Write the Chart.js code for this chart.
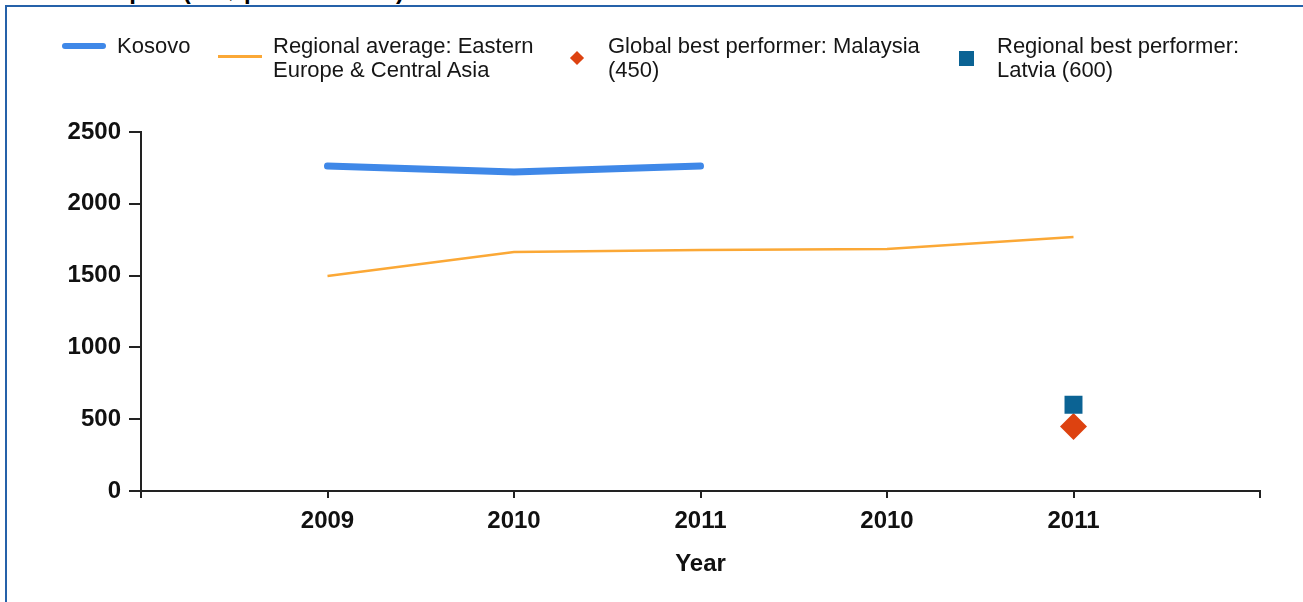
<!DOCTYPE html>
<html>
<head>
<meta charset="utf-8">
<script src="https://cdn.jsdelivr.net/npm/chart.js@4/dist/chart.umd.min.js"></script>
<style>
  html,body{margin:0;padding:0;background:#fff;overflow:hidden}
  #wrap{position:relative;width:1303px;height:602px}
  #frame{position:absolute;left:5px;top:5px;width:1400px;height:700px;border-left:2px solid #2561a9;border-top:2px solid #2561a9}
  #ttl{position:absolute;left:12px;top:-21px;font:bold 24px "Liberation Sans",Arial,sans-serif;line-height:24px;color:#000;white-space:nowrap}
  .lg{position:absolute;top:34px;font:22px "Liberation Sans",Arial,sans-serif;line-height:24px;color:#161616;white-space:nowrap}
  .sw{position:absolute}
  canvas{position:absolute;left:0;top:0}
</style>
</head>
<body>
<div id="wrap">
  <div id="ttl">Cost to import (US$ per container)</div>
  <div id="frame"></div>
  <canvas id="c" width="1303" height="602"></canvas>
  <div id="legend"></div>
</div>
<script>
// categories (blank slots pad the axis at both ends)
const YEARS = ['', '2009', '2010', '2011', '2010', '2011', ''];
const KOSOVO = [null, 2263, 2221, 2263, null, null, null];
const REGION_AVG = [null, 1497, 1664, 1678, 1685, 1769, null];
const GLOBAL_BEST = [null, null, null, null, null, 450, null];
const REGION_BEST = [null, null, null, null, null, 600, null];
const Y_TICKS = [0, 500, 1000, 1500, 2000, 2500];

const C_BLUE = '#3f88e8', C_ORANGE = '#fba836', C_RED = '#dd4210', C_TEAL = '#0b6394';
const AX = '#222';

// legend drawn as html, two-line labels
const legendItems = [
  {sw:{left:62,top:43,width:44,height:6,background:C_BLUE,borderRadius:'3px'}, x:117, text:'Kosovo'},
  {sw:{left:218,top:55,width:44,height:3,background:C_ORANGE}, x:273, text:'Regional average: Eastern<br>Europe &amp; Central Asia'},
  {sw:{left:572,top:53,width:10,height:10,background:C_RED,transform:'rotate(45deg)'}, x:608, text:'Global best performer: Malaysia<br>(450)'},
  {sw:{left:959,top:51,width:15,height:15,background:C_TEAL}, x:997, text:'Regional best performer:<br>Latvia (600)'},
];
const lg = document.getElementById('legend');
legendItems.forEach(it => {
  const s = document.createElement('div');
  s.className = 'sw';
  Object.entries(it.sw).forEach(([k,v]) => s.style[k] = typeof v === 'number' ? v + 'px' : v);
  lg.appendChild(s);
  const t = document.createElement('div');
  t.className = 'lg';
  t.style.left = it.x + 'px';
  t.innerHTML = it.text;
  lg.appendChild(t);
});

const tickFont = {family:'"Liberation Sans", Arial, sans-serif', size:24, weight:'bold'};

new Chart(document.getElementById('c'), {
  type: 'line',
  data: {
    labels: YEARS,
    datasets: [
      {label:'Kosovo', data:KOSOVO, borderColor:C_BLUE, borderWidth:7, borderCapStyle:'round', borderJoinStyle:'round', pointRadius:0, tension:0},
      {label:'Regional average', data:REGION_AVG, borderColor:C_ORANGE, borderWidth:2.5, pointRadius:0, tension:0},
      {label:'Regional best', data:REGION_BEST, showLine:false, pointStyle:'rect', pointRadius:12.7, pointBackgroundColor:C_TEAL, pointBorderWidth:0},
      {label:'Global best', data:GLOBAL_BEST, showLine:false, pointStyle:'rectRot', pointRadius:13.5, pointBackgroundColor:C_RED, pointBorderWidth:0},
    ]
  },
  options: {
    responsive: false,
    animation: false,
    layout: {padding:{left:0, top:132, right:43, bottom:0}},
    plugins: {legend:{display:false}, tooltip:{enabled:false}},
    scales: {
      x: {
        offset: false,
        grid: {drawOnChartArea:false, drawTicks:true, tickLength:7, color:AX, lineWidth:2},
        border: {color:AX, width:2},
        ticks: {color:'#111', font:tickFont, padding:9, maxRotation:0, autoSkip:false},
        title: {display:true, text:'Year', color:'#111', font:tickFont, padding:{top:0, bottom:23}},
        afterFit: s => { s.height = 111; }
      },
      y: {
        min: 0, max: 2500,
        afterBuildTicks: s => { s.ticks = Y_TICKS.map(v => ({value:v})); },
        grid: {drawOnChartArea:false, drawTicks:true, tickLength:12, color:AX, lineWidth:2},
        border: {color:AX, width:2},
        ticks: {color:'#111', font:tickFont, padding:8, callback: v => String(v)},
        afterFit: s => { s.width = 141; }
      }
    }
  }
});
</script>
</body>
</html>
